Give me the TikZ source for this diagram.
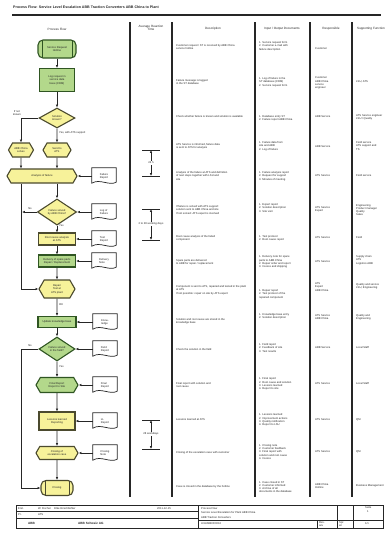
\documentclass[tikz,border=0pt]{standalone}
\usepackage{fontspec}
\setmainfont{Liberation Sans}
\usetikzlibrary{shapes.geometric,shapes.symbols,arrows.meta,calc}

\newcommand\tinyfont{\fontsize{2.7}{3.3}\selectfont}
\newcommand\hdfont{\fontsize{3.1}{3.7}\selectfont}
\definecolor{flowyellow}{HTML}{F7F29A}
\definecolor{flowgreen}{HTML}{B3D88B}
\definecolor{edgegreen}{HTML}{2F5522}
\definecolor{edgeyellow}{HTML}{4B4A2E}
\definecolor{ink}{HTML}{262626}

\tikzset{
  flow/.style={line width=1.1pt, inner sep=0.5pt, align=center, font=\tinyfont, text=ink},
  yel/.style={flow, fill=flowyellow, draw=edgeyellow},
  grn/.style={flow, fill=flowgreen, draw=edgegreen},
  terminal/.style={rectangle, rounded corners=5pt,
    path picture={
      \draw[line width=0.5pt] ([xshift=4pt]path picture bounding box.north west) -- ([xshift=4pt]path picture bounding box.south west);
      \draw[line width=0.5pt] ([xshift=-4pt]path picture bounding box.north east) -- ([xshift=-4pt]path picture bounding box.south east);}},
  hexa/.style={signal, signal to=west and east, signal pointer angle=120},
  decide/.style={diamond},
  conn/.style={draw=ink, line width=0.7pt, -{Latex[length=2.8pt,width=2.4pt]}},
  plain/.style={draw=ink, line width=0.7pt},
  docnode/.style={minimum width=24pt, minimum height=16pt, inner sep=1pt, font=\tinyfont, align=left, text=ink},
  docline/.style={draw=ink, line width=0.7pt, fill=white},
  lbl/.style={font=\tinyfont, inner sep=0pt, align=center, text=ink},
  cell/.style={font=\tinyfont, inner sep=0pt, anchor=west, align=left, text=ink},
  head/.style={font=\hdfont, inner sep=0pt, align=center, text=ink},
  colline/.style={draw=ink, line width=1.3pt},
  tickline/.style={draw=ink, line width=0.9pt},
  frame/.style={draw=ink, line width=0.7pt},
}

% document symbol with a wavy lower edge
\newcommand\docsym[3]{%
  \node[docnode] (#1) at (#2) {#3};
  \draw[docline] (#1.north west) -- (#1.north east) -- ([yshift=2pt]#1.south east)
    .. controls ([xshift=-7pt,yshift=-2pt]#1.south east) and ([xshift=8pt,yshift=6pt]#1.south west) ..
    ([yshift=1pt]#1.south west) -- cycle;
  \node[docnode] at (#2) {#3};
}

\begin{document}
\begin{tikzpicture}[x=1pt,y=-1pt]
\useasboundingbox[fill=white] (0,0) rectangle (386,552);

% title and rule
\node[font=\fontsize{3.6}{4}\selectfont\bfseries, anchor=west, inner sep=0pt, text=ink] (title) at (13,7)
  {Process Flow: Service Level Escalation ABB Traction Converters ABB China to Plant};
\draw[line width=1.6pt, ink] (12,15) -- (381,15);

% column separators
\foreach \cx in {130,172,255,310,352} \draw[colline] (\cx,22) -- (\cx,497);

% column headings
\node[head] (hflow) at (57,29) {Process Flow};
\node[head] (htime) at (151,28) {Average Reaction\\Time};
\node[head] (hdesc) at (213,29) {Description};
\node[head] (hio) at (282,29) {Input / Output Documents};
\node[head] (hresp) at (331,29) {Responsible};
\node[head, anchor=west] (hsupp) at (357,29) {Supporting Function};

% ---------------- process flow ----------------
\node[grn, terminal, minimum width=38pt, minimum height=18pt] (start) at (57,49) {Service Request\\Hotline};
\node[grn, rectangle, minimum width=35pt, minimum height=23pt] (log) at (57,80) {Log request in\\service data\\base (CRM)};
\node[yel, decide, minimum width=36pt, minimum height=20pt] (known) at (57,118) {Solution\\known?};
\node[yel, hexa, minimum width=25pt, minimum height=14pt] (local) at (21,150) {ABB China\\solves};
\node[yel, hexa, minimum width=28pt, minimum height=14pt] (ask) at (57,150) {Send to\\ATS};
\node[yel, hexa, minimum width=70pt, minimum height=14pt] (analysis) at (42,176) {Analysis of failure};
\node[yel, decide, minimum width=39pt, minimum height=20pt] (solved) at (57,212) {Failure solved\\by ABB China?};
\node[yel, rectangle, minimum width=37pt, minimum height=12pt] (rca) at (57,239) {Root cause analysis\\at ATS};
\node[grn, rectangle, minimum width=37pt, minimum height=12pt] (spare) at (57,261) {Delivery of spare parts\\Repair / Replacement};
\node[yel, hexa, minimum width=36pt, minimum height=18pt] (repair) at (57,289) {Repair\\Test at\\ATS plant};
\node[grn, rectangle, minimum width=38pt, minimum height=11pt] (update) at (57,322) {Update knowledge base};
\node[grn, decide, minimum width=36pt, minimum height=18pt] (field) at (57,349) {Failure solved\\in the field?};
\node[grn, hexa, minimum width=42pt, minimum height=15pt] (report) at (57,385) {Final Report\\Report to Site};
\node[yel, rectangle, minimum width=36pt, minimum height=18pt] (lessons) at (57,421) {Lessons learned\\Reporting};
\node[yel, hexa, minimum width=42pt, minimum height=13pt] (closecase) at (57,453) {Closing of\\escalation case};
\node[yel, terminal, minimum width=32pt, minimum height=15pt] (finish) at (57,488) {Closing};

% main sequence
\draw[conn] (start) -- (log);
\draw[conn] (log) -- (known);
\draw[conn] (known) -- (ask);
\draw[conn] (known.west) -| (local.north);
\draw[conn] (local) -- (local |- analysis.north);
\draw[conn] (ask) -- (ask |- analysis.north);
\draw[conn] (solved |- analysis.south) -- (solved.north);
\draw[conn] (local |- analysis.south) |- (repair.west);
\draw[conn] (solved.west) -- ([xshift=1pt]solved.west -| local);
\draw[conn] (solved) -- (rca);
\draw[conn] (rca) -- (spare);
\draw[conn] (spare) -- (repair);
\draw[conn] (repair) -- (update);
\draw[conn] (update) -- (field);
\draw[conn] (field) -- (report);
\draw[conn] (report) -- (lessons);
\draw[conn] (lessons) -- (closecase);
\draw[conn] (closecase) -- (finish);
\draw[conn] (field.west) -- (field.west -| local) |- (finish.west);

% branch labels
\node[lbl] (lnot) at (17,113) {If not\\known};
\node[lbl, anchor=west] (lyes) at (59,133) {Yes, with ATS support};
\node[lbl] (lno1) at (30,209) {No};
\node[lbl, anchor=west] (lyes1) at (59,226) {Yes};
\node[lbl, anchor=west] (lok) at (59,305) {OK};
\node[lbl, anchor=west] (lyes2) at (59,367) {Yes};
\node[lbl] (lno2) at (30,346) {No};

% documents
\docsym{d1}{104,176}{Failure\\Report}
\docsym{d2}{104,212}{Log of\\Failure}
\docsym{d3}{104,239}{Test\\Report}
\docsym{d4}{104,261}{Delivery\\Note}
\docsym{d5}{105,322}{Know-\\ledge}
\docsym{d6}{105,349}{Field\\Report}
\docsym{d7}{105,385}{Final\\Report}
\docsym{d8}{105,421}{LL\\Report}
\docsym{d9}{105,453}{Closing\\Note}
\draw[conn] (d1.west) -- (analysis.east);
\draw[conn] (d2.west) -- (solved.east);
\draw[conn] (d3.west) -- (rca.east);
\draw[conn] (d4.west) -- (spare.east);
\draw[conn] (d5.west) -- (update.east);
\draw[conn] (d6.west) -- (field.east);
\draw[conn] (d7.west) -- (report.east);
\draw[conn] (d8.west) -- (lessons.east);
\draw[conn] (d9.west) -- (closecase.east);

% ---------------- reaction times ----------------
\coordinate (t1a) at (151,150); \coordinate (t1b) at (151,176);
\coordinate (t2a) at (151,209); \coordinate (t2b) at (151,240);
\coordinate (t3a) at (151,420); \coordinate (t3b) at (151,449);
\foreach \t in {t1a,t1b,t2a,t2b,t3a,t3b}
  \draw[tickline] ([xshift=-9pt]\t) -- ([xshift=9pt]\t);
\node[lbl, fill=white, inner sep=1pt] (rt1) at (151,163) {24 h};
\node[lbl, fill=white, inner sep=1pt] (rt2) at (151,224) {2 to 28 working days};
\node[lbl, fill=white, inner sep=1pt] (rt3) at (151,434) {28 workdays};
\draw[conn] (rt1) -- (t1a); \draw[conn] (rt1) -- (t1b);
\draw[conn] (rt2) -- (t2a); \draw[conn] (rt2) -- (t2b);
\draw[conn] (rt3) -- (t3a); \draw[conn] (rt3) -- (t3b);

% ---------------- descriptions ----------------
\node[cell] (c1) at (176,47) {Customer request / ST is received by ABB China\\service hotline};
\node[cell] (c2) at (176,82) {Failure message is logged\\in the ST database};
\node[cell] (c3) at (176,117) {Check whether failure is known and solution is available};
\node[cell] (c4) at (176,146) {ATS Service is informed, failure data\\is sent to ATS for analysis};
\node[cell] (c5) at (176,176) {Analysis of the failure at ATS and definition\\of next steps together with LSU and\\site};
\node[cell] (c6) at (176,210) {If failure is solved with ATS support:\\solution sent to ABB China and site\\If not solved: ATS expert is involved};
\node[cell] (c7) at (176,238) {Root cause analysis of the failed\\component};
\node[cell] (c8) at (176,262) {Spare parts are delivered\\to ABB for repair / replacement};
\node[cell] (c9) at (176,290) {Component is sent to ATS, repaired and tested in the plant\\at ATS\\If not possible: repair on site by ATS expert};
\node[cell] (c10) at (176,321) {Solution and root cause are stored in the\\knowledge base};
\node[cell] (c11) at (176,350) {Check the solution in the field};
\node[cell] (c12) at (176,385) {Final report with solution and\\root cause};
\node[cell] (c13) at (176,420) {Lessons learned at ATS};
\node[cell] (c14) at (176,453) {Closing of the escalation case with customer};
\node[cell] (c15) at (176,487) {Case is closed in the database by the hotline};

% ---------------- input / output documents ----------------
\node[cell] (o1) at (259,46) {1. Service request form\\2. Customer e-mail with\\failure description};
\node[cell] (o2) at (259,82) {1. Log of failure in the\\ST database (CRM)\\2. Service request form};
\node[cell] (o3) at (259,118) {1. Database entry ST\\2. Failure report ABB China};
\node[cell] (o4) at (259,146) {1. Failure data from\\site and ABB\\2. Log of failure};
\node[cell] (o5) at (259,176) {1. Failure analysis report\\2. Request for support\\3. Minutes of meeting};
\node[cell] (o6) at (259,208) {1. Expert report\\2. Solution description\\3. Site visit};
\node[cell] (o7) at (259,238) {1. Test protocol\\2. Root cause report};
\node[cell] (o8) at (259,262) {1. Delivery note for spare\\parts to ABB China\\2. Repair order and report\\3. Invoice and shipping};
\node[cell] (o9) at (259,294) {1. Repair report\\2. Test protocol of the\\repaired component};
\node[cell] (o10) at (259,316) {1. Knowledge base entry\\2. Solution description};
\node[cell] (o11) at (259,348) {1. Field report\\2. Feedback of site\\3. Test results};
\node[cell] (o12) at (259,384) {1. Final report\\2. Root cause and solution\\3. Lessons learned\\4. Report to site};
\node[cell] (o13) at (259,420) {1. Lessons learned\\2. Improvement actions\\3. Quality notification\\4. Report to LSU};
\node[cell] (o14) at (259,452) {1. Closing note\\2. Customer feedback\\3. Final report with\\solution and root cause\\4. Invoice};
\node[cell] (o15) at (259,487) {1. Case closed in ST\\2. Customer informed\\3. Archive of all\\documents in the database};

% ---------------- responsible ----------------
\node[cell] (r1) at (315,49) {Customer};
\node[cell] (r2) at (315,83) {Customer\\ABB China\\service\\engineer};
\node[cell] (r3) at (315,117) {ABB Service};
\node[cell] (r4) at (315,147) {ABB Service};
\node[cell] (r5) at (315,176) {ATS Service};
\node[cell] (r6) at (315,209) {ATS Service\\Expert};
\node[cell] (r7) at (315,238) {ATS Service};
\node[cell] (r8) at (315,262) {ATS Service};
\node[cell] (r9) at (315,287) {ATS\\Expert\\ABB China};
\node[cell] (r10) at (315,317) {ATS Service\\ABB China};
\node[cell] (r11) at (315,348) {ABB Service};
\node[cell] (r12) at (315,384) {ATS Service};
\node[cell] (r13) at (315,420) {ATS Service};
\node[cell] (r14) at (315,452) {ATS Service};
\node[cell] (r15) at (315,486) {ABB China\\Hotline};

% ---------------- supporting functions ----------------
\node[cell] (s2) at (356,82) {LSU, ATS};
\node[cell] (s3) at (356,117) {ATS Service engineer\\LSU / Quality};
\node[cell] (s4) at (356,146) {Field service\\ATS support and\\TS};
\node[cell] (s5) at (356,176) {Field service};
\node[cell] (s6) at (356,210) {Engineering\\Product manager\\Quality\\Sales};
\node[cell] (s7) at (356,238) {Field};
\node[cell] (s8) at (356,260) {Supply chain\\ATS\\Logistics ABB};
\node[cell] (s9) at (356,286) {Quality and service\\LSU, Engineering};
\node[cell] (s10) at (356,317) {Quality and\\Engineering};
\node[cell] (s11) at (356,348) {Local Staff};
\node[cell] (s12) at (356,384) {Local Staff};
\node[cell] (s13) at (356,420) {QM};
\node[cell] (s14) at (356,452) {QM};
\node[cell] (s15) at (356,486) {Business Management};

% ---------------- title block ----------------
\draw[frame] (16,505) rectangle (383,528);
\draw[frame] (198,505) -- (198,528);
\draw[frame] (337,505) -- (337,528);
\draw[frame] (353,505) -- (353,528);
\draw[frame] (16,511.5) -- (198,511.5);
\draw[frame] (16,518) -- (198,518);
\draw[frame] (198,520) -- (383,520);
\draw[frame] (317,520) -- (317,528);
\node[cell] (f1) at (18,508.3) {Erst.};
\node[cell] (f2) at (38,508.3) {W. Fischer \quad Elke Hirschb\"uhler};
\node[cell] (f3) at (157,508.3) {2011-12-15};
\node[cell] (f4) at (18,514.8) {Pr.};
\node[cell] (f5) at (38,514.8) {ATS};
\node[cell, font=\hdfont\bfseries] (f6) at (28,523) {ABB};
\node[cell, font=\hdfont\bfseries] (f7) at (78,523) {ABB Schweiz AG};
\node[cell] (f8) at (201,508.5) {Process Flow};
\node[cell] (f9) at (201,513) {Service Level Escalation for Plant ABB China};
\node[cell] (f10) at (201,517.3) {ABB Traction Converters};
\node[cell] (f11) at (201,524) {U/H/ABB/0/0016};
\node[cell] (f12) at (319,522.5) {Rev.};
\node[cell] (f13) at (319,525.8) {a/a};
\node[cell] (f14) at (339,522.5) {Spr.};
\node[cell] (f15) at (339,525.8) {en};
\node[cell] (f16) at (365,508) {Seite};
\node[cell] (f17) at (367,512) {1};
\node[cell] (f18) at (365,524) {1/1};
\end{tikzpicture}
\end{document}
